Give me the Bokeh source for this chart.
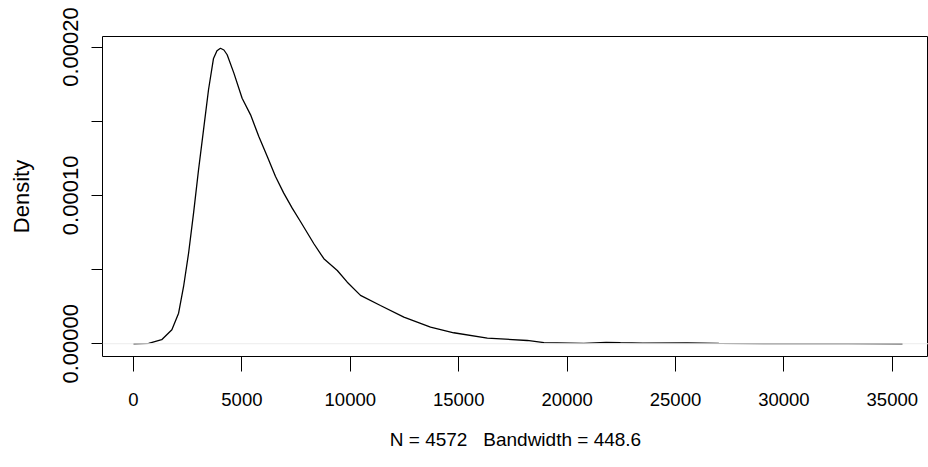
from bokeh.plotting import figure
from bokeh.models import FixedTicker, PrintfTickFormatter, CustomJSTickFormatter, Span, Range1d
from bokeh.embed import file_html
from bokeh.resources import INLINE

# density estimate (x value, density)
dens_x = [0, 700, 1300, 1770, 2080, 2310, 2540, 2770, 3000, 3230, 3460, 3690,
          3850, 4010, 4170, 4320, 4630, 5010, 5400, 5780, 6170, 6550, 6930,
          7320, 7700, 8320, 8780, 9400, 9860, 10470, 11390, 12470, 13700,
          14770, 16320, 18160, 18930, 20770, 21800, 22460, 23500, 25540,
          27000, 30000, 33000, 35470]
dens_y = [0.0, 2e-7, 2.7e-6, 9.4e-6, 2.06e-5, 3.86e-5, 6.1e-5, 8.8e-5,
          1.173e-4, 1.442e-4, 1.712e-4, 1.923e-4, 1.975e-4, 1.992e-4,
          1.980e-4, 1.948e-4, 1.824e-4, 1.655e-4, 1.543e-4, 1.397e-4,
          1.262e-4, 1.127e-4, 1.015e-4, 9.14e-5, 8.24e-5, 6.74e-5, 5.73e-5,
          4.94e-5, 4.15e-5, 3.26e-5, 2.58e-5, 1.79e-5, 1.12e-5, 7.4e-6,
          3.8e-6, 2.2e-6, 7e-7, 2e-7, 9e-7, 7e-7, 4e-7, 5e-7, 2e-7, 1e-7,
          1e-7, 0.0]

x_ticks = [0, 5000, 10000, 15000, 20000, 25000, 30000, 35000]
y_ticks = [0.0, 0.00005, 0.00010, 0.00015, 0.00020]

x_title = "N = 4572 \u00a0\u00a0Bandwidth = 448.6"
y_title = "Density"

FONT = "Liberation Sans"
H = 462

p = figure(width=928, height=H, output_backend="svg", toolbar_location=None,
           x_range=Range1d(-1430, 36669), y_range=Range1d(-0.0000086, 0.0002071),
           min_border_left=102, min_border_right=0, min_border_top=36,
           min_border_bottom=H - 356)

p.background_fill_color = "white"
p.border_fill_color = "white"
p.outline_line_color = "black"
p.outline_line_width = 1
p.xgrid.visible = False
p.ygrid.visible = False

# zero line
p.add_layout(Span(location=0, dimension="width", line_color="#ececec", line_width=1))

p.line(dens_x, dens_y, line_color="black", line_width=1.3)

xa = p.xaxis[0]
xa.ticker = FixedTicker(ticks=x_ticks)
xa.formatter = PrintfTickFormatter(format="%d")
xa.bounds = (x_ticks[0], x_ticks[-1])
xa.axis_line_color = "black"
xa.major_tick_line_color = "black"
xa.major_tick_out = 15
xa.major_tick_in = 0
xa.minor_tick_line_color = None
xa.major_label_standoff = 21
xa.major_label_text_font = FONT
xa.major_label_text_font_size = "18.5px"
xa.major_label_text_color = "black"
xa.axis_label = x_title
xa.axis_label_text_font = FONT
xa.axis_label_text_font_size = "19px"
xa.axis_label_text_font_style = "normal"
xa.axis_label_text_color = "black"
xa.axis_label_standoff = 20

ya = p.yaxis[0]
ya.ticker = FixedTicker(ticks=y_ticks)
# R drops the labels that would overlap: only every other one is shown
ya.formatter = CustomJSTickFormatter(code="return (index % 2 == 0) ? tick.toFixed(5) : '';")
ya.bounds = (y_ticks[0], y_ticks[-1])
ya.axis_line_color = "black"
ya.major_tick_line_color = "black"
ya.major_tick_out = 11
ya.major_tick_in = 0
ya.minor_tick_line_color = None
ya.major_label_orientation = "vertical"
ya.major_label_standoff = 13
ya.major_label_text_font = FONT
ya.major_label_text_font_size = "22px"
ya.major_label_text_color = "black"
ya.axis_label = y_title
ya.axis_label_text_font = FONT
ya.axis_label_text_font_size = "22px"
ya.axis_label_text_font_style = "normal"
ya.axis_label_text_color = "black"
ya.axis_label_standoff = 27

open("out.html", "w").write(file_html(p, INLINE))
